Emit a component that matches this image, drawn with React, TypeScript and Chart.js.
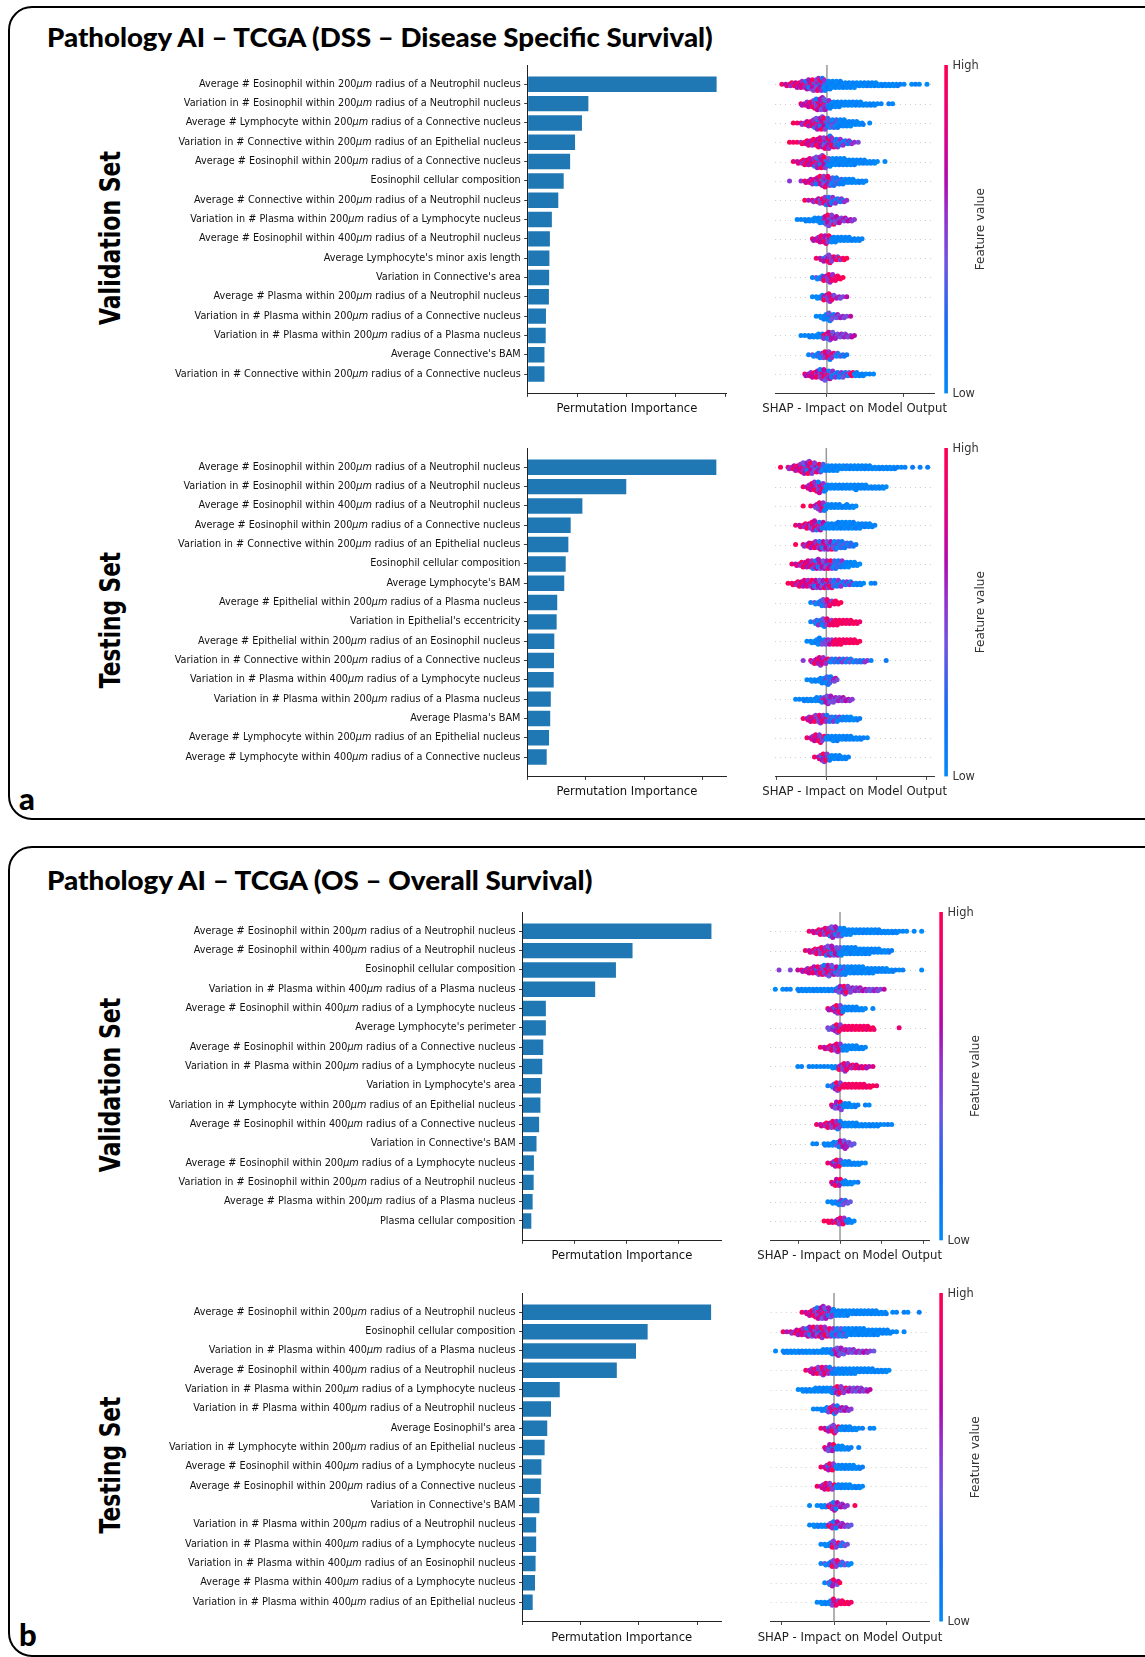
import React, { useEffect, useLayoutEffect, useRef } from "react";
import { Chart, registerables } from "chart.js";

Chart.register(...registerables);

// ---------------- DATA ----------------
const DSS_VAL_FEATURES = [
  "Average # Eosinophil within 200μm radius of a Neutrophil nucleus",
  "Variation in # Eosinophil within 200μm radius of a Neutrophil nucleus",
  "Average # Lymphocyte within 200μm radius of a Connective nucleus",
  "Variation in # Connective within 200μm radius of an Epithelial nucleus",
  "Average # Eosinophil within 200μm radius of a Connective nucleus",
  "Eosinophil cellular composition",
  "Average # Connective within 200μm radius of a Neutrophil nucleus",
  "Variation in # Plasma within 200μm radius of a Lymphocyte nucleus",
  "Average # Eosinophil within 400μm radius of a Neutrophil nucleus",
  "Average Lymphocyte's minor axis length",
  "Variation in Connective's area",
  "Average # Plasma within 200μm radius of a Neutrophil nucleus",
  "Variation in # Plasma within 200μm radius of a Connective nucleus",
  "Variation in # Plasma within 200μm radius of a Plasma nucleus",
  "Average Connective's BAM",
  "Variation in # Connective within 200μm radius of a Connective nucleus",
];
const DSS_VAL_IMPORTANCE = [3.83, 1.23, 1.1, 0.96, 0.86, 0.73, 0.62, 0.49, 0.45, 0.44, 0.435, 0.43, 0.37, 0.365, 0.34, 0.34];

const DSS_TEST_FEATURES = [
  "Average # Eosinophil within 200μm radius of a Neutrophil nucleus",
  "Variation in # Eosinophil within 200μm radius of a Neutrophil nucleus",
  "Average # Eosinophil within 400μm radius of a Neutrophil nucleus",
  "Average # Eosinophil within 200μm radius of a Connective nucleus",
  "Variation in # Connective within 200μm radius of an Epithelial nucleus",
  "Eosinophil cellular composition",
  "Average Lymphocyte's BAM",
  "Average # Epithelial within 200μm radius of a Plasma nucleus",
  "Variation in Epithelial's eccentricity",
  "Average # Epithelial within 200μm radius of an Eosinophil nucleus",
  "Variation in # Connective within 200μm radius of a Connective nucleus",
  "Variation in # Plasma within 400μm radius of a Lymphocyte nucleus",
  "Variation in # Plasma within 200μm radius of a Plasma nucleus",
  "Average Plasma's BAM",
  "Average # Lymphocyte within 200μm radius of an Epithelial nucleus",
  "Average # Lymphocyte within 400μm radius of a Connective nucleus",
];
const DSS_TEST_IMPORTANCE = [3.23, 1.69, 0.94, 0.74, 0.7, 0.655, 0.63, 0.51, 0.5, 0.46, 0.455, 0.45, 0.4, 0.39, 0.37, 0.33];

const OS_VAL_FEATURES = [
  "Average # Eosinophil within 200μm radius of a Neutrophil nucleus",
  "Average # Eosinophil within 400μm radius of a Neutrophil nucleus",
  "Eosinophil cellular composition",
  "Variation in # Plasma within 400μm radius of a Plasma nucleus",
  "Average # Eosinophil within 400μm radius of a Lymphocyte nucleus",
  "Average Lymphocyte's perimeter",
  "Average # Eosinophil within 200μm radius of a Connective nucleus",
  "Variation in # Plasma within 200μm radius of a Lymphocyte nucleus",
  "Variation in Lymphocyte's area",
  "Variation in # Lymphocyte within 200μm radius of an Epithelial nucleus",
  "Average # Eosinophil within 400μm radius of a Connective nucleus",
  "Variation in Connective's BAM",
  "Average # Eosinophil within 200μm radius of a Lymphocyte nucleus",
  "Variation in # Eosinophil within 200μm radius of a Neutrophil nucleus",
  "Average # Plasma within 200μm radius of a Plasma nucleus",
  "Plasma cellular composition",
];
const OS_VAL_IMPORTANCE = [3.64, 2.12, 1.8, 1.4, 0.45, 0.45, 0.4, 0.38, 0.355, 0.345, 0.32, 0.27, 0.22, 0.215, 0.195, 0.17];

const OS_TEST_FEATURES = [
  "Average # Eosinophil within 200μm radius of a Neutrophil nucleus",
  "Eosinophil cellular composition",
  "Variation in # Plasma within 400μm radius of a Plasma nucleus",
  "Average # Eosinophil within 400μm radius of a Neutrophil nucleus",
  "Variation in # Plasma within 200μm radius of a Lymphocyte nucleus",
  "Variation in # Plasma within 400μm radius of a Neutrophil nucleus",
  "Average Eosinophil's area",
  "Variation in # Lymphocyte within 200μm radius of an Epithelial nucleus",
  "Average # Eosinophil within 400μm radius of a Lymphocyte nucleus",
  "Average # Eosinophil within 200μm radius of a Connective nucleus",
  "Variation in Connective's BAM",
  "Variation in # Plasma within 200μm radius of a Neutrophil nucleus",
  "Variation in # Plasma within 400μm radius of a Lymphocyte nucleus",
  "Variation in # Plasma within 400μm radius of an Eosinophil nucleus",
  "Average # Plasma within 400μm radius of a Lymphocyte nucleus",
  "Variation in # Plasma within 400μm radius of an Epithelial nucleus",
];
const OS_TEST_IMPORTANCE = [3.24, 2.15, 1.95, 1.62, 0.64, 0.49, 0.425, 0.38, 0.325, 0.315, 0.29, 0.235, 0.235, 0.225, 0.215, 0.175];

// SHAP beeswarm rows, read from the picture as column profiles:
// [first bin, dots per bin (digits), feature-value colour code per bin (last code repeats)]
// colour codes: b low(blue), z blue/purple, p purple, x mixed, y red/purple, r high(red)
const DSS_VAL_SHAP_BIN0 = -0.7;
const DSS_VAL_SHAP_BINW = 0.05;
const DSS_VAL_SHAP = [
  [2, "123345678998655544443333322222211011101", "yyyyyyxxxxxzb"],
  [7, "2346898644433333222211011", "yyyxxxxzb"],
  [5, "112346898766554432201", "rryyyxxxxzzzb"],
  [4, "1112345678976543211", "rrryyyyyyxxxzzzzzzp"],
  [5, "1234568986555544433222101", "yyyyyxxxxzb"],
  [4, "100123457876544332221", "pppyyyyxxxxzzzb"],
  [8, "112346654321", "ryyyxxxz"],
  [6, "1122334687543221", "bbbbbbbxxxp"],
  [10, "23565443332221", "yyyyxb"],
  [11, "124643221", "yyxxxxxr"],
  [10, "123465421", "zzzxxxr"],
  [10, "1234642211", "bbbxxxp"],
  [11, "1246432211", "bbbzzp"],
  [7, "112233465433221", "bbbbbbxxxp"],
  [9, "12345643221", "zzzzxxxz"],
  [8, "2345786544433322111", "yyyyxxxzzzzzrb"],
];

const DSS_TEST_SHAP_BIN0 = -1.0;
const DSS_TEST_SHAP_BINW = 0.075;
const DSS_TEST_SHAP = [
  [1, "1023468987654444333333332222222111010101", "rryyyyxxxxxzb"],
  [7, "13578643333333433222221", "yyyxxxb"],
  [7, "101366433323221", "rrrxxxb"],
  [5, "1234676544455555443321", "yyyyxxxxb"],
  [5, "10234566666554321", "rryyyxxxxxz"],
  [4, "1234566766665544321", "yyyyyxxxxxxzzzb"],
  [3, "123455666666554332221011", "rryyyyyxxxxxzzzzzzb"],
  [9, "123554321", "zzzzxxr"],
  [9, "13465444333221", "zzzzxxr"],
  [8, "123544444433321", "bbbbzppr"],
  [7, "10246543333332222110001", "ppyyyyxz"],
  [8, "122346531", "bbbbbzzp"],
  [5, "1122233465433221", "bbbbbbbxxxp"],
  [7, "1345655444333221", "yyyxxxxzzzb"],
  [8, "13564334433322211", "yyyxxb"],
  [10, "1365433221", "yyxxb"],
];

const OS_VAL_SHAP_BIN0 = -1.75;
const OS_VAL_SHAP_BINW = 0.09;
const OS_VAL_SHAP = [
  [11, "1234568765443333333222221110101", "yyyyxxxxzb"],
  [10, "123456776655554444332221", "yyyyxxxxxzb"],
  [3, "100101234566787666555554443332211100001", "pppppyyyyyxxxxxxzzb"],
  [2, "101110222222222235654332222211", "bbbbbbbbbbbbbbbbzxxxp"],
  [16, "2366433322101", "yyxxb"],
  [16, "23653333333220000001", "ppxxr"],
  [14, "1234654433221", "yyyyxxb"],
  [8, "110111111224653322211", "bbbbbbbbbbbxxxy"],
  [16, "13653333332211", "zzxxr"],
  [17, "25633221011", "yxxb"],
  [13, "123456533332222221111", "yyyyxxxb"],
  [12, "110223356421", "bbbbbbzxxp"],
  [16, "13553322211", "yyxxb"],
  [17, "25532211", "yyxb"],
  [16, "1224421", "bbbzzp"],
  [15, "122355321", "rrryxxb"],
];

const OS_TEST_SHAP_BIN0 = -1.2;
const OS_TEST_SHAP_BINW = 0.072;
const OS_TEST_SHAP = [
  [8, "12468987544443333333222011011001", "yyyxxxxxzb"],
  [3, "112345677787666665555544443321101", "yyyyyyxxxxxxxzzzzb"],
  [1, "102222222222333465433222211", "bbbbbbbbbbbbbbbzxxp"],
  [9, "13456554444444333322221", "yyyxxxxzb"],
  [7, "12223333346543333221", "bbbbbbbbbzxxxp"],
  [11, "11234653321", "bbbbxxxp"],
  [13, "124643332211011", "yyxxxb"],
  [14, "2553322101", "yxxb"],
  [13, "135533333221", "yyxxb"],
  [12, "1355433332221", "yyyxxb"],
  [10, "1012236532101", "bbbbbxxxpppr"],
  [10, "122223553221", "bbbbbxxxp"],
  [13, "12354321", "bbbxxz"],
  [13, "123553221", "zzzxxz"],
  [14, "13531", "zzxxr"],
  [12, "1223543221", "bbbbxxr"],
];

// ---------------- STYLE HELPERS ----------------
const CMAP: [number, number[]][] = [
  [0, [0, 138, 250]],
  [0.2, [20, 110, 245]],
  [0.4, [110, 85, 225]],
  [0.55, [150, 45, 205]],
  [0.65, [175, 10, 175]],
  [0.8, [225, 0, 130]],
  [1, [255, 0, 82]],
];
function cmap(t: number): string {
  for (let i = 1; i < CMAP.length; i++) {
    if (t <= CMAP[i][0]) {
      const [t0, c0] = CMAP[i - 1];
      const [t1, c1] = CMAP[i];
      const f = (t - t0) / (t1 - t0);
      const c = c0.map((v, k) => Math.round(v + (c1[k] - v) * f));
      return `rgb(${c[0]},${c[1]},${c[2]})`;
    }
  }
  return "rgb(255,0,82)";
}
const PALETTES: Record<string, number[]> = {
  b: [0.02, 0.06, 0.0, 0.1],
  z: [0.05, 0.42, 0.0, 0.3, 0.12, 0.55],
  p: [0.5, 0.38, 0.6, 0.45, 0.68],
  x: [0.9, 0.55, 0.08, 0.7, 0.4, 0.62, 1.0, 0.48],
  y: [0.92, 0.62, 0.8, 0.55, 1.0, 0.7],
  r: [1.0, 0.9, 0.97, 0.85],
};
const STACK_STEP = 0.08; // vertical spacing of stacked dots, in row units

function buildSwarm(rows: any[], bin0: number, binw: number) {
  const pts: { x: number; y: number }[] = [];
  const colors: string[] = [];
  rows.forEach((row, r) => {
    const [start, dens, cols] = row as [number, string, string];
    for (let j = 0; j < dens.length; j++) {
      const n = Number(dens[j]);
      if (!n) continue;
      const code = cols[Math.min(j, cols.length - 1)];
      const pal = PALETTES[code] || PALETTES.x;
      const cx = bin0 + (start + j + 0.5) * binw;
      for (let k = 0; k < n; k++) {
        const level = Math.ceil(k / 2) * (k % 2 ? 1 : -1);
        pts.push({ x: cx + ((k % 3) - 1) * binw * 0.3, y: r + level * STACK_STEP });
        colors.push(cmap(pal[(k + j) % pal.length]));
      }
    }
  });
  return { pts, colors };
}

const FONT = '"DejaVu Sans"';
const PAD_T = 10;
const PAD_B = 5;
const HX = 23;

const barLabelPlugin = {
  id: "featureLabels",
  afterDraw(chart: any, _args: any, opts: any) {
    const { ctx, chartArea, scales } = chart;
    const labels: string[] = opts.labels || [];
    const size = 9.7;
    const normal = `${size}px ${FONT}`;
    const italic = `italic ${size}px ${FONT}`;
    ctx.save();
    ctx.fillStyle = "#111";
    ctx.textBaseline = "middle";
    ctx.textAlign = "left";
    labels.forEach((lab, i) => {
      const y = scales.y.getPixelForValue(i);
      const parts = lab.split("μm");
      const segs: [string, string][] = [];
      parts.forEach((p, j) => {
        if (p) segs.push([p, normal]);
        if (j < parts.length - 1) segs.push(["μm", italic]);
      });
      let total = 0;
      segs.forEach(([t, f]) => {
        ctx.font = f;
        total += ctx.measureText(t).width;
      });
      let x = chartArea.left - 7 - total;
      segs.forEach(([t, f]) => {
        ctx.font = f;
        ctx.fillText(t, x, y);
        x += ctx.measureText(t).width;
      });
    });
    ctx.restore();
  },
};

const shapExtrasPlugin = {
  id: "shapExtras",
  beforeDatasetsDraw(chart: any) {
    const { ctx, chartArea, scales } = chart;
    ctx.save();
    ctx.strokeStyle = "#cfcfcf";
    ctx.lineWidth = 1;
    ctx.setLineDash([1, 4]);
    for (let i = 0; i < 16; i++) {
      const y = Math.round(scales.y.getPixelForValue(i)) + 0.5;
      ctx.beginPath();
      ctx.moveTo(chartArea.left, y);
      ctx.lineTo(chartArea.right, y);
      ctx.stroke();
    }
    ctx.setLineDash([]);
    const x0 = scales.x.getPixelForValue(0);
    ctx.strokeStyle = "#999999";
    ctx.lineWidth = 1.5;
    ctx.beginPath();
    ctx.moveTo(x0, chartArea.top);
    ctx.lineTo(x0, chartArea.bottom);
    ctx.stroke();
    ctx.restore();
  },
  afterDraw(chart: any) {
    const { ctx, chartArea } = chart;
    const { top, bottom, right, left } = chartArea;
    ctx.save();
    // x-axis label (wider than the axis, so drawn without width limit)
    ctx.fillStyle = "#222";
    ctx.font = `11.7px ${FONT}`;
    ctx.textBaseline = "middle";
    ctx.textAlign = "center";
    ctx.fillText("SHAP - Impact on Model Output", (left + right) / 2, bottom + 16);
    // colour bar
    const grad = ctx.createLinearGradient(0, bottom, 0, top);
    CMAP.forEach(([t, c]) => grad.addColorStop(t, `rgb(${c[0]},${c[1]},${c[2]})`));
    ctx.fillStyle = grad;
    ctx.fillRect(right + 10, top, 3.6, bottom - top);
    ctx.fillStyle = "#333";
    ctx.font = `11.4px ${FONT}`;
    ctx.textAlign = "left";
    ctx.fillText("High", right + 18.2, top + 1);
    ctx.fillText("Low", right + 18.2, bottom + 1);
    ctx.font = `12px ${FONT}`;
    ctx.translate(right + 46.5, (top + bottom) / 2);
    ctx.rotate(-Math.PI / 2);
    ctx.textAlign = "center";
    ctx.fillText("Feature value", 0, 0);
    ctx.restore();
  },
};

const BAR_CANVAS_LEFT = 100;

function BarChart(props: any) {
  const { labels, values, xMax, xTicks, axisLeft, axisRight, top, bottom } = props;
  const ref = useRef<HTMLCanvasElement>(null);
  const width = Math.ceil(axisRight - BAR_CANVAS_LEFT + 6);
  const padR = width - (axisRight - BAR_CANVAS_LEFT);
  const height = Math.ceil(PAD_T + (bottom - top) + HX + PAD_B);
  const padB = height - PAD_T - (bottom - top) - HX;
  useEffect(() => {
    const chart = new Chart(ref.current as HTMLCanvasElement, {
      type: "bar",
      data: {
        datasets: [
          {
            data: values.map((v: number, i: number) => ({ x: v, y: i })),
            backgroundColor: "#1f77b4",
            borderWidth: 0,
            barPercentage: 0.8,
            categoryPercentage: 1,
          } as any,
        ],
      },
      options: {
        indexAxis: "y",
        animation: false,
        responsive: false,
        events: [],
        layout: { padding: { left: 0, right: padR, top: PAD_T, bottom: padB } },
        plugins: {
          legend: { display: false },
          tooltip: { enabled: false },
          featureLabels: { labels },
        } as any,
        scales: {
          x: {
            type: "linear",
            position: "bottom",
            min: 0,
            max: xMax,
            offset: false,
            afterBuildTicks: (s: any) => {
              s.ticks = xTicks.map((v: number) => ({ value: v }));
            },
            afterFit: (s: any) => {
              s.height = HX;
              s.paddingLeft = 0;
              s.paddingRight = 0;
            },
            ticks: { display: false },
            grid: { display: true, offset: false, drawOnChartArea: false, drawTicks: true, tickLength: 3.5, color: "#222", lineWidth: 0.9 },
            border: { display: true, color: "#222", width: 1 },
            title: {
              display: true,
              text: "Permutation Importance",
              color: "#111",
              font: { family: FONT, size: 11.6 },
              padding: { top: 0, bottom: 0 },
            },
          },
          y: {
            type: "linear",
            position: "left",
            reverse: true,
            min: -1,
            max: 16,
            offset: false,
            afterBuildTicks: (s: any) => {
              s.ticks = labels.map((_: string, i: number) => ({ value: i }));
            },
            afterFit: (s: any) => {
              s.width = axisLeft - BAR_CANVAS_LEFT;
              s.paddingTop = 0;
              s.paddingBottom = 0;
            },
            ticks: { display: false },
            grid: { display: true, offset: false, drawOnChartArea: false, drawTicks: true, tickLength: 3.5, color: "#222", lineWidth: 0.9 },
            border: { display: true, color: "#222", width: 1 },
          },
        },
      } as any,
      plugins: [barLabelPlugin],
    });
    return () => chart.destroy();
  }, []);
  return (
    <canvas
      ref={ref}
      width={width}
      height={height}
      style={{ position: "absolute", left: BAR_CANVAS_LEFT, top: top - PAD_T, width, height }}
    />
  );
}

const SWARM_CANVAS_LEFT = 740;
const SWARM_CANVAS_W = 405;

function SwarmChart(props: any) {
  const { rows, bin0, binw, xMin, xMax, xTicks, left, right, top, bottom } = props;
  const ref = useRef<HTMLCanvasElement>(null);
  const height = Math.ceil(PAD_T + (bottom - top) + HX + PAD_B);
  const padB = height - PAD_T - (bottom - top) - HX;
  useEffect(() => {
    const { pts, colors } = buildSwarm(rows, bin0, binw);
    const chart = new Chart(ref.current as HTMLCanvasElement, {
      type: "scatter",
      data: {
        datasets: [
          {
            data: pts,
            pointBackgroundColor: colors,
            pointBorderWidth: 0,
            pointRadius: 2.5,
            pointHoverRadius: 2.5,
          } as any,
        ],
      },
      options: {
        animation: false,
        responsive: false,
        events: [],
        layout: {
          padding: {
            left: left - SWARM_CANVAS_LEFT,
            right: SWARM_CANVAS_W - (right - SWARM_CANVAS_LEFT),
            top: PAD_T,
            bottom: padB,
          },
        },
        plugins: { legend: { display: false }, tooltip: { enabled: false } },
        scales: {
          x: {
            type: "linear",
            position: "bottom",
            min: xMin,
            max: xMax,
            afterBuildTicks: (s: any) => {
              s.ticks = xTicks.map((v: number) => ({ value: v }));
            },
            afterFit: (s: any) => {
              s.height = HX;
              s.paddingLeft = 0;
              s.paddingRight = 0;
            },
            ticks: { display: false },
            grid: { display: true, drawOnChartArea: false, drawTicks: true, tickLength: 3.5, color: "#333", lineWidth: 0.9 },
            border: { display: true, color: "#333", width: 1 },
            title: { display: false },
          },
          y: { type: "linear", display: false, reverse: true, min: -1, max: 16 },
        },
      } as any,
      plugins: [shapExtrasPlugin],
    });
    return () => chart.destroy();
  }, []);
  return (
    <canvas
      ref={ref}
      width={SWARM_CANVAS_W}
      height={height}
      style={{ position: "absolute", left: SWARM_CANVAS_LEFT, top: top - PAD_T, width: SWARM_CANVAS_W, height }}
    />
  );
}

function FitText(props: any) {
  const { text, family, size, weight, target, x, y, rotate } = props;
  const ref = useRef<HTMLDivElement>(null);
  useLayoutEffect(() => {
    const el = ref.current;
    if (!el) return;
    const natural = el.offsetWidth;
    const s = natural > 0 ? target / natural : 1;
    el.style.transform = rotate
      ? `translate(-50%, -50%) rotate(-90deg) scaleX(${s})`
      : `scaleX(${s})`;
  }, [text, target]);
  const base: React.CSSProperties = {
    position: "absolute",
    left: x,
    top: y,
    fontFamily: family,
    fontSize: size,
    fontWeight: weight,
    lineHeight: `${size}px`,
    whiteSpace: "nowrap",
    color: "#000",
  };
  const style: React.CSSProperties = rotate
    ? { ...base, transformOrigin: "50% 50%", transform: "translate(-50%, -50%) rotate(-90deg)" }
    : { ...base, transformOrigin: "0 0" };
  return (
    <div ref={ref} style={style}>
      {text}
    </div>
  );
}

const TITLE_FONT = 'Lato, "Open Sans", sans-serif';
const SIDE_FONT = '"DejaVu Sans", sans-serif';

export default function App() {
  return (
    <div
      style={{
        position: "absolute",
        left: 0,
        top: 0,
        width: 1145,
        height: 1657,
        overflow: "hidden",
        background: "#fff",
      }}
    >
      <div
        style={{
          position: "absolute",
          left: 7.5,
          top: 6,
          width: 1160,
          height: 813.5,
          border: "2.2px solid #000",
          borderRadius: 24,
          boxSizing: "border-box",
        }}
      />
      <div
        style={{
          position: "absolute",
          left: 7.5,
          top: 845.8,
          width: 1160,
          height: 811,
          border: "2.2px solid #000",
          borderRadius: 24,
          boxSizing: "border-box",
        }}
      />
      <FitText
        text="Pathology AI – TCGA (DSS – Disease Specific Survival)"
        family={TITLE_FONT}
        size={26}
        weight={900}
        target={666}
        x={47}
        y={23.6}
      />
      <FitText
        text="Pathology AI – TCGA (OS – Overall Survival)"
        family={TITLE_FONT}
        size={26}
        weight={900}
        target={545}
        x={47}
        y={866.9}
      />
      <FitText text="Validation Set" family={SIDE_FONT} size={28.5} weight={700} target={174.4} x={110.9} y={238} rotate />
      <FitText text="Testing Set" family={SIDE_FONT} size={28.5} weight={700} target={136} x={110.9} y={620} rotate />
      <FitText text="Validation Set" family={SIDE_FONT} size={28.5} weight={700} target={175} x={110.9} y={1084.5} rotate />
      <FitText text="Testing Set" family={SIDE_FONT} size={28.5} weight={700} target={136.6} x={110.9} y={1465} rotate />
      <div style={{ position: "absolute", left: 19, top: 782.5, fontFamily: TITLE_FONT, fontWeight: 900, fontSize: 31, lineHeight: "31px" }}>a</div>
      <div style={{ position: "absolute", left: 19, top: 1619.2, fontFamily: TITLE_FONT, fontWeight: 900, fontSize: 31, lineHeight: "31px" }}>b</div>

      <BarChart labels={DSS_VAL_FEATURES} values={DSS_VAL_IMPORTANCE} xMax={4.02} xTicks={[0, 1, 2, 3, 4]} axisLeft={527.7} axisRight={726} top={65} bottom={393.4} />
      <BarChart labels={DSS_TEST_FEATURES} values={DSS_TEST_IMPORTANCE} xMax={3.4} xTicks={[0, 1, 2, 3]} axisLeft={527.4} axisRight={726.3} top={448.3} bottom={776.7} />
      <BarChart labels={OS_VAL_FEATURES} values={OS_VAL_IMPORTANCE} xMax={3.83} xTicks={[0, 1, 2, 3]} axisLeft={522.5} axisRight={721.3} top={911.7} bottom={1240} />
      <BarChart labels={OS_TEST_FEATURES} values={OS_TEST_IMPORTANCE} xMax={3.41} xTicks={[0, 1, 2, 3]} axisLeft={522.5} axisRight={721} top={1292.5} bottom={1621} />

      <SwarmChart rows={DSS_VAL_SHAP} bin0={DSS_VAL_SHAP_BIN0} binw={DSS_VAL_SHAP_BINW} xMin={-0.68} xMax={1.406} xTicks={[0, 1]} left={775} right={934.3} top={65} bottom={393.4} />
      <SwarmChart rows={DSS_TEST_SHAP} bin0={DSS_TEST_SHAP_BIN0} binw={DSS_TEST_SHAP_BINW} xMin={-1.02} xMax={2.147} xTicks={[-1, 0, 1, 2]} left={775} right={934.3} top={448.3} bottom={776.7} />
      <SwarmChart rows={OS_VAL_SHAP} bin0={OS_VAL_SHAP_BIN0} binw={OS_VAL_SHAP_BINW} xMin={-1.679} xMax={2.141} xTicks={[-1, 0, 1, 2]} left={770} right={929.3} top={911.7} bottom={1240} />
      <SwarmChart rows={OS_TEST_SHAP} bin0={OS_TEST_SHAP_BIN0} binw={OS_TEST_SHAP_BINW} xMin={-1.206} xMax={1.815} xTicks={[-1, 0, 1]} left={770.7} right={929.3} top={1292.5} bottom={1621} />
    </div>
  );
}
